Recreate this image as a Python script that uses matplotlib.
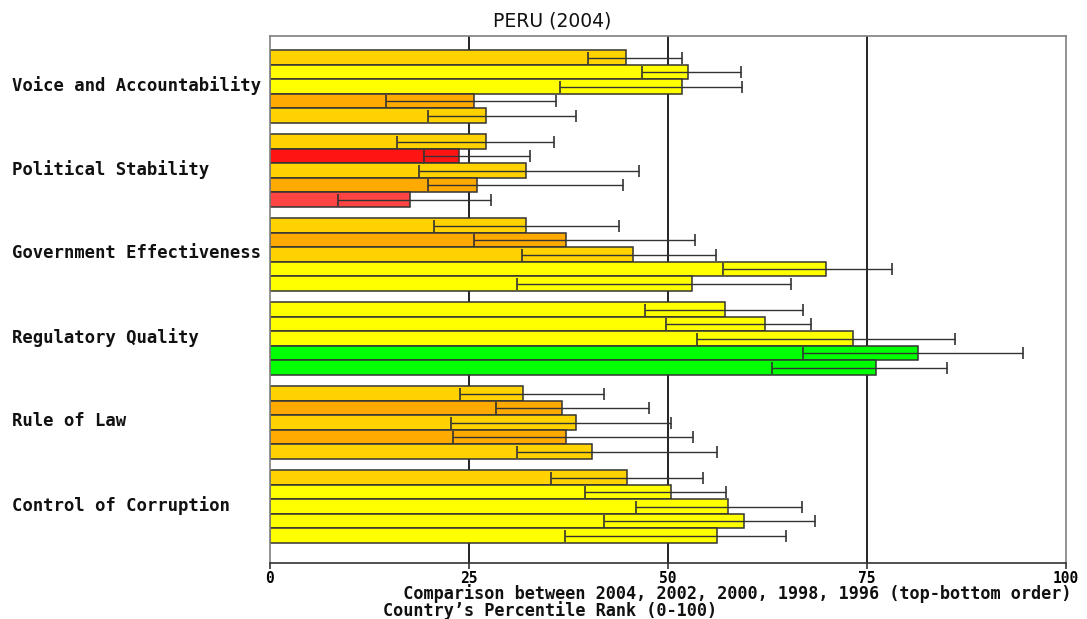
import matplotlib
matplotlib.use("Agg")
import matplotlib.pyplot as plt
from matplotlib.transforms import blended_transform_factory

categories = ["Voice and Accountability", "Political Stability", "Government Effectiveness",
              "Regulatory Quality", "Rule of Law", "Control of Corruption"]
years = ["2004", "2002", "2000", "1998", "1996"]

# percentile rank per category, years in order 2004, 2002, 2000, 1998, 1996
values = [
    [44.7, 52.5, 51.7, 25.6, 27.1],
    [27.1, 23.8, 32.2, 26.0, 17.6],
    [32.1, 37.2, 45.6, 69.8, 53.0],
    [57.1, 62.2, 73.2, 81.4, 76.1],
    [31.8, 36.7, 38.5, 37.2, 40.4],
    [44.8, 50.4, 57.5, 59.6, 56.1],
]
lower = [
    [40.0, 46.7, 36.4, 14.6, 19.8],
    [15.9, 19.3, 18.7, 19.8, 8.5],
    [20.6, 25.6, 31.6, 56.9, 31.0],
    [47.1, 49.7, 53.6, 67.0, 63.1],
    [23.9, 28.4, 22.8, 23.0, 31.0],
    [35.3, 39.6, 46.0, 41.9, 37.0],
]
upper = [
    [51.7, 59.2, 59.3, 35.9, 38.5],
    [35.7, 32.7, 46.4, 44.4, 27.8],
    [43.9, 53.4, 56.0, 78.2, 65.5],
    [67.0, 68.0, 86.0, 94.6, 85.1],
    [41.9, 47.6, 50.4, 53.2, 56.2],
    [54.4, 57.3, 66.8, 68.5, 64.8],
]
bar_colors = [
    ["#FFD200", "#FFFF00", "#FFFF00", "#FFAA00", "#FFD200"],
    ["#FFD200", "#FF1414", "#FFD200", "#FFAA00", "#FF4444"],
    ["#FFD200", "#FFAA00", "#FFD200", "#FFFF00", "#FFFF00"],
    ["#FFFF00", "#FFFF00", "#FFFF00", "#00FF00", "#00FF00"],
    ["#FFD200", "#FFAA00", "#FFD200", "#FFAA00", "#FFD200"],
    ["#FFD200", "#FFFF00", "#FFFF00", "#FFFF00", "#FFFF00"],
]
xticks = [0, 25, 50, 75, 100]
title = "PERU (2004)"
xlabel_1 = "Comparison between 2004, 2002, 2000, 1998, 1996 (top-bottom order)"
xlabel_2 = "Country\u2019s Percentile Rank (0-100)"

W, H = 1087, 619
fig = plt.figure(figsize=(W / 100, H / 100), dpi=100)
ax = fig.add_axes([270 / W, (H - 563) / H, 796 / W, 527.5 / H])

first_top = 1.02
pitch = 5.78
total_h = 36.3

mono = ["DejaVu Sans Mono"]
trans = blended_transform_factory(fig.transFigure, ax.transData)

for g, cat in enumerate(categories):
    ys = [first_top + g * pitch + i + 0.5 for i in range(len(years))]
    ax.barh(ys, values[g], height=1.0, color=bar_colors[g], edgecolor="#333333",
            linewidth=1.1, zorder=2)
    xerr = [[v - lo for v, lo in zip(values[g], lower[g])],
            [hi - v for v, hi in zip(values[g], upper[g])]]
    ax.errorbar(values[g], ys, xerr=xerr, fmt="none", ecolor="#333333",
                elinewidth=1.0, capsize=4, capthick=1.2, zorder=3)
    ax.text(12 / W, ys[2] - 0.1, cat, transform=trans, ha="left", va="center",
            family=mono, fontweight="bold", fontsize=12.4, color="#111111")

for t in xticks[1:-1]:
    ax.axvline(t, color="#111111", linewidth=1.3, zorder=1)

ax.set_xlim(0, 100)
ax.set_ylim(total_h, 0)
ax.set_xticks(xticks)
ax.set_xticklabels([str(t) for t in xticks], family=mono, fontweight="bold", fontsize=10.5)
ax.set_yticks([])
ax.tick_params(axis="x", length=4, width=1.2, color="#333333", pad=2)
for s in ["left", "top", "right"]:
    ax.spines[s].set_color("#808080")
    ax.spines[s].set_linewidth(1.2)
ax.spines["bottom"].set_color("#333333")
ax.spines["bottom"].set_linewidth(1.2)

fig.text(552 / W, 1 - 21 / H, title, ha="center", va="center",
         fontsize=13.5, family=["DejaVu Sans"], color="#111111")
fig.text(383 / W, 1 - 616 / H, "  " + xlabel_1 + "\n" + xlabel_2,
         ha="left", va="baseline", multialignment="left", linespacing=0.85,
         family=mono, fontweight="bold", fontsize=12.2, color="#111111")

fig.savefig("out.png", dpi=100, facecolor="white")
